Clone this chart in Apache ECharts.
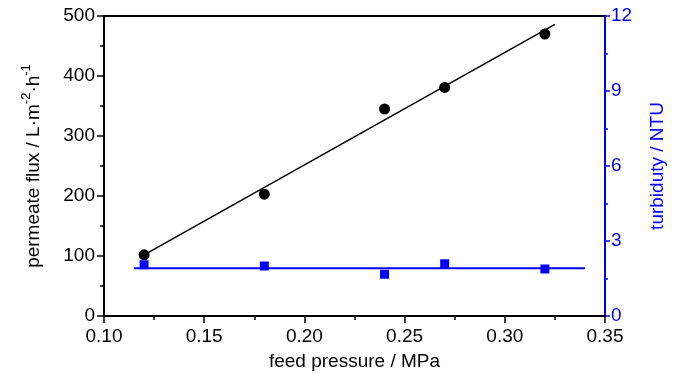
<!DOCTYPE html>
<html><head><meta charset="utf-8">
<script src="https://cdn.jsdelivr.net/npm/echarts@6/dist/echarts.min.js"></script>
<style>html,body{margin:0;padding:0;background:#fff}#c{width:700px;height:374px}</style>
</head><body><div id="c"></div>
<script>
var pressure = [0.12, 0.18, 0.24, 0.27, 0.32];
var flux = [102, 203, 345, 381, 470];
var turbidity = [2.05, 2.0, 1.67, 2.09, 1.88];
var fluxFitX = [0.12, 0.325];
var fluxFitY = [102, 486];
var turbFitX = [0.115, 0.34];
var turbFitY = [1.91, 1.91];
var xTicks = { min: 0.10, max: 0.35, interval: 0.05 };
var fluxTicks = { min: 0, max: 500, interval: 100 };
var turbTicks = { min: 0, max: 12, interval: 3 };

var FONT = "'Liberation Sans', Arial, sans-serif";
var FS = 19;
var BLUE = '#0000ff';
function pairs(xs, ys) { return xs.map(function (x, i) { return [x, ys[i]]; }); }

var chart = echarts.init(document.getElementById('c'));
chart.setOption({
  animation: false,
  backgroundColor: '#fff',
  grid: { left: 104, right: 95, top: 16, bottom: 58, containLabel: false, outerBoundsMode: 'none' },
  xAxis: [{
    type: 'value', position: 'bottom', min: xTicks.min, max: xTicks.max, interval: xTicks.interval,
    name: 'feed pressure / MPa', nameLocation: 'middle', nameGap: 36,
    nameTextStyle: { fontFamily: FONT, fontSize: FS, color: '#000' },
    axisLine: { show: true, onZero: false, lineStyle: { color: '#000', width: 2 } },
    axisTick: { show: true, inside: false, length: 7, lineStyle: { color: '#000', width: 1.5 } },
    minorTick: { show: true, splitNumber: 2, length: 4, lineStyle: { color: '#000', width: 1.5 } },
    axisLabel: { fontFamily: FONT, fontSize: FS, color: '#000', margin: 11, formatter: function (v) { return v.toFixed(2); } },
    splitLine: { show: false }
  }, {
    type: 'value', position: 'top', min: xTicks.min, max: xTicks.max,
    axisLine: { show: true, onZero: false, lineStyle: { color: '#000', width: 2 } },
    axisTick: { show: false }, axisLabel: { show: false }, splitLine: { show: false }
  }],
  yAxis: [{
    type: 'value', position: 'left', min: fluxTicks.min, max: fluxTicks.max, interval: fluxTicks.interval,
    name: 'permeate flux / L·m{sup|-2}·h{sup|-1}', nameLocation: 'middle', nameGap: 57, nameRotate: 90,
    nameTextStyle: { fontFamily: FONT, fontSize: FS, color: '#000',
      rich: { sup: { fontFamily: FONT, fontSize: 13, color: '#000', padding: [0, 0, 14, 0] } } },
    axisLine: { show: true, onZero: false, lineStyle: { color: '#000', width: 2 } },
    axisTick: { show: true, inside: false, length: 7, lineStyle: { color: '#000', width: 1.5 } },
    minorTick: { show: true, splitNumber: 2, length: 4, lineStyle: { color: '#000', width: 1.5 } },
    axisLabel: { fontFamily: FONT, fontSize: FS, color: '#000', margin: 9 },
    splitLine: { show: false }
  }, {
    type: 'value', position: 'right', min: turbTicks.min, max: turbTicks.max, interval: turbTicks.interval,
    name: 'turbiduty / NTU', nameLocation: 'middle', nameGap: 43, nameRotate: 90,
    nameTextStyle: { fontFamily: FONT, fontSize: FS, color: BLUE },
    axisLine: { show: true, onZero: false, lineStyle: { color: BLUE, width: 2 } },
    axisTick: { show: true, inside: false, length: 5, lineStyle: { color: BLUE, width: 1.5 } },
    minorTick: { show: true, splitNumber: 2, length: 3, lineStyle: { color: BLUE, width: 1.5 } },
    axisLabel: { fontFamily: FONT, fontSize: FS, color: BLUE, margin: 6 },
    splitLine: { show: false }
  }],
  series: [{
    type: 'line', xAxisIndex: 0, yAxisIndex: 0, data: pairs(fluxFitX, fluxFitY),
    showSymbol: false, symbol: 'none', lineStyle: { color: '#000', width: 1.5 }, z: 2
  }, {
    type: 'scatter', xAxisIndex: 0, yAxisIndex: 0, data: pairs(pressure, flux),
    symbol: 'circle', symbolSize: 11, itemStyle: { color: '#000', opacity: 1 }, z: 4
  }, {
    type: 'line', xAxisIndex: 0, yAxisIndex: 1, data: pairs(turbFitX, turbFitY),
    showSymbol: false, symbol: 'none', lineStyle: { color: BLUE, width: 2 }, z: 2
  }, {
    type: 'scatter', xAxisIndex: 0, yAxisIndex: 1, data: pairs(pressure, turbidity),
    symbol: 'rect', symbolSize: 9, itemStyle: { color: BLUE, opacity: 1 }, z: 4
  }]
});
</script></body></html>
